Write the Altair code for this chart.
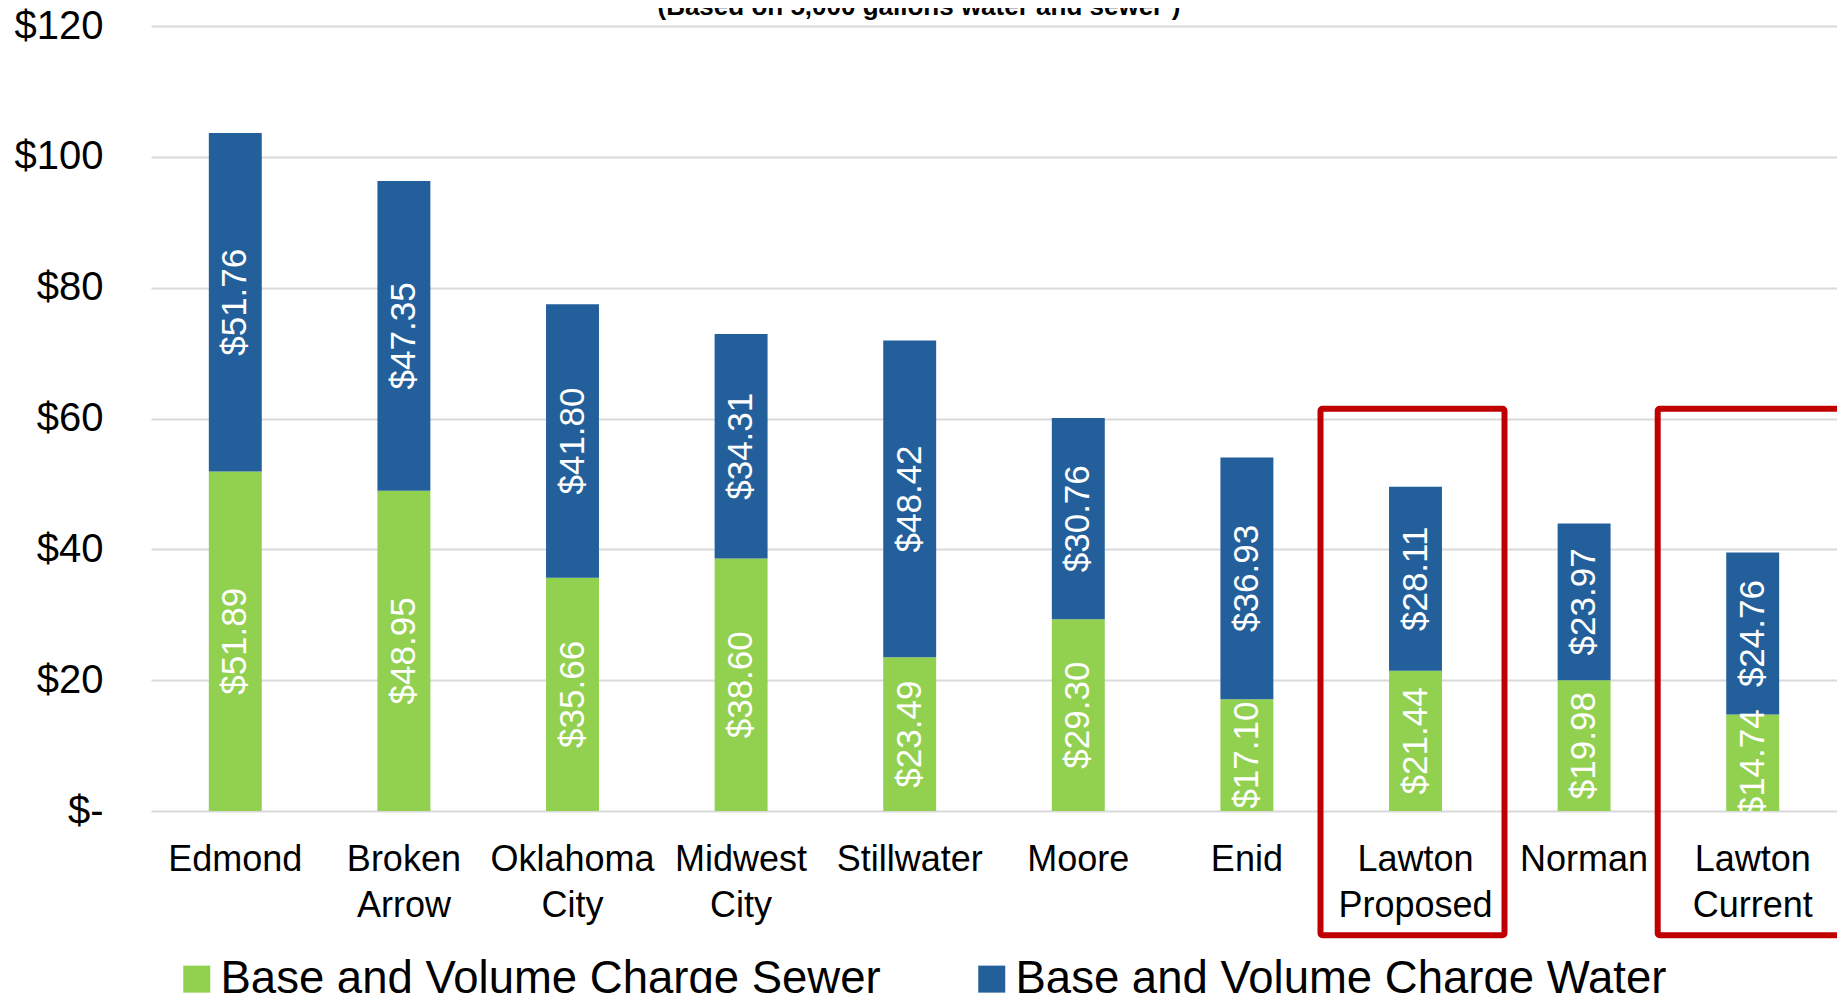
import altair as alt
import pandas as pd

categories = ["Edmond", "Broken Arrow", "Oklahoma City", "Midwest City", "Stillwater",
              "Moore", "Enid", "Lawton Proposed", "Norman", "Lawton Current"]
sewer = [51.89, 48.95, 35.66, 38.60, 23.49, 29.30, 17.10, 21.44, 19.98, 14.74]
water = [51.76, 47.35, 41.80, 34.31, 48.42, 30.76, 36.93, 28.11, 23.97, 24.76]
series = ["Base and Volume Charge Sewer", "Base and Volume Charge Water"]
colors = ["#92D050", "#235F9B"]
highlighted = ["Lawton Proposed", "Lawton Current"]
box_top = [61.5, 61.5]
box_bottom = [-19.0, -19.0]
y_ticks = [0, 20, 40, 60, 80, 100, 120]
title_text = "(Based on 5,000 gallons water and sewer\u00b9)"

rows = []
for c, s, w in zip(categories, sewer, water):
    rows.append(dict(cat=c, series=series[0], value=s, y0=0.0, y1=s))
    rows.append(dict(cat=c, series=series[1], value=w, y0=s, y1=s + w))
df = pd.DataFrame(rows)
df["mid"] = (df["y0"] + df["y1"]) / 2

box_df = pd.DataFrame({"cat": highlighted, "top": box_top, "bottom": box_bottom})
title_df = pd.DataFrame({"t": [title_text]})

FONT = "Liberation Sans"

x_enc = alt.X(
    "cat:N", sort=categories,
    scale=alt.Scale(paddingInner=0.686, paddingOuter=0.343),
    axis=alt.Axis(title=None, labelExpr="split(datum.label, ' ')", labelFontSize=36,
                  labelFont=FONT, labelColor="black", labelLineHeight=46,
                  labelPadding=31, ticks=False, domain=False, grid=False,
                  labelAngle=0, labelLimit=0, labelOverlap=False),
)
y_scale = alt.Scale(domain=[0, 120], nice=False)

bars = alt.Chart(df).mark_bar().encode(
    x=x_enc,
    y=alt.Y("y0:Q", scale=y_scale,
            axis=alt.Axis(title=None, values=y_ticks,
                          labelExpr="datum.value == 0 ? '$-' : '$' + datum.value",
                          labelFontSize=40, labelFont=FONT, labelColor="black",
                          labelPadding=48, ticks=False, domain=False,
                          gridColor="#D9D9D9", gridWidth=2)),
    y2="y1:Q",
    color=alt.Color("series:N", scale=alt.Scale(domain=series, range=colors),
                    legend=alt.Legend(title=None, orient="none", legendX=23, legendY=930,
                                      direction="horizontal", symbolType="square",
                                      symbolSize=729, symbolStrokeWidth=0,
                                      labelFontSize=45.5, labelFont=FONT, labelColor="black",
                                      labelOffset=1, columnPadding=88, padding=0,
                                      labelLimit=0)),
)

labels = alt.Chart(df).mark_text(
    angle=270, color="white", fontSize=35, font=FONT, clip=True,
    align="center", baseline="middle",
).encode(
    x=alt.X("cat:N", sort=categories),
    y=alt.Y("mid:Q", scale=y_scale),
    text=alt.Text("value:Q", format="$.2f"),
)

boxes = alt.Chart(box_df).mark_bar(
    filled=False, stroke="#C00000", strokeWidth=6, width=184, xOffset=-3,
    clip=False, cornerRadius=2,
).encode(
    x=alt.X("cat:N", sort=categories),
    y=alt.Y("top:Q", scale=y_scale),
    y2="bottom:Q",
)

title = alt.Chart(title_df).mark_text(
    fontSize=26, fontWeight="bold", font=FONT, color="black",
    align="center", baseline="alphabetic", clip=False,
).encode(
    x=alt.value(768), y=alt.value(-11), text="t:N",
)

chart = alt.layer(bars, labels, boxes, title).properties(
    width=1686, height=785,
    autosize=alt.AutoSizeParams(type="none"),
    padding={"left": 143, "top": 18, "right": 0, "bottom": 182},
    background="white",
).configure_view(stroke=None)

chart.save("out.html", embed_options={"renderer": "svg", "actions": False})
